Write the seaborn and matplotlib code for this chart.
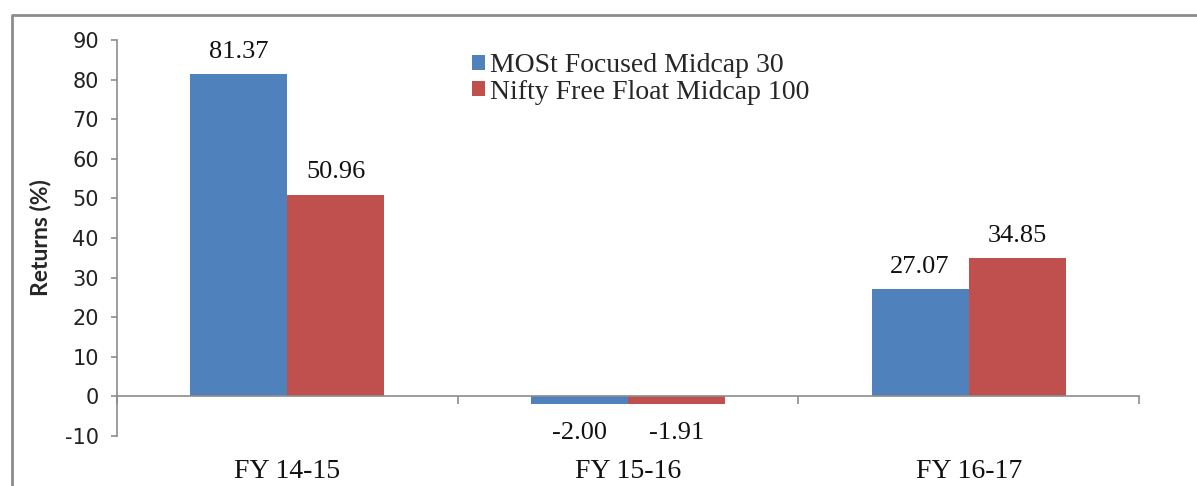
import pandas as pd
import matplotlib
matplotlib.use("Agg")
import matplotlib.pyplot as plt
import seaborn as sns
from matplotlib.lines import Line2D
from matplotlib.ticker import FixedLocator

years = ["FY 14-15", "FY 15-16", "FY 16-17"]
fund = [81.37, -2.00, 27.07]
index = [50.96, -1.91, 34.85]
series_names = ["MOSt Focused Midcap 30", "Nifty Free Float Midcap 100"]
colors = ["#4F81BD", "#C0504D"]

df = pd.DataFrame({
    "year": years * 2,
    "ret": fund + index,
    "series": [series_names[0]] * 3 + [series_names[1]] * 3,
})

sns.set_style("white")
plt.rcParams["axes.unicode_minus"] = False
serif = ["Liberation Serif", "DejaVu Serif"]
sans = ["DejaVu Sans"]

fig = plt.figure(figsize=(11.97, 4.86), dpi=100)
ax = fig.add_axes([117 / 1197, 1 - 436 / 486, (1139 - 117) / 1197, (436 - 40) / 486])

sns.barplot(data=df, x="year", y="ret", hue="series", palette=colors,
            width=0.57, saturation=1, edgecolor="none", linewidth=0, ax=ax)

ax.set_ylim(-10, 90)
ax.set_xlim(-0.5, 2.5)
ax.set_yticks(range(-10, 91, 10))

# value labels: positives above the bar, negatives further below
for cont in ax.containers:
    vals = cont.datavalues
    pos = ["%.2f" % v if v >= 0 else "" for v in vals]
    neg = ["%.2f" % v if v < 0 else "" for v in vals]
    ax.bar_label(cont, labels=pos, padding=8, fontsize=19, family=serif, color="#111111")
    ax.bar_label(cont, labels=neg, padding=13, fontsize=19, family=serif, color="#111111")

# spines
for s in ["top", "right"]:
    ax.spines[s].set_visible(False)
ax.spines["bottom"].set_position(("data", 0))
for s in ["left", "bottom"]:
    ax.spines[s].set_color("#8c8c8c")
    ax.spines[s].set_linewidth(1.2)

ax.xaxis.set_minor_locator(FixedLocator([-0.5, 0.5, 1.5, 2.5]))
ax.tick_params(axis="x", which="major", length=0, pad=45)
ax.tick_params(axis="x", which="minor", length=6, width=1.2, color="#8c8c8c", direction="out", bottom=True)
ax.tick_params(axis="y", which="major", length=4, width=1.2, color="#8c8c8c", direction="out", left=True, pad=9)

for lab in ax.get_xticklabels():
    lab.set_family(serif)
    lab.set_fontsize(20)
    lab.set_color("#111111")
for lab in ax.get_yticklabels():
    lab.set_family(sans)
    lab.set_fontsize(15)
    lab.set_color("#222222")

ax.set_xlabel("")
ax.set_ylabel("Returns (%)", family=["Lato", "DejaVu Sans"], fontsize=16.5, fontweight="bold", labelpad=10)

leg = ax.legend(loc="upper left", bbox_to_anchor=(0.323, 1.03), frameon=False,
                handlelength=0.45, handleheight=0.45, handletextpad=0.2, labelspacing=0.05,
                prop={"family": serif, "size": 20})

# outer border of the chart area
fig.add_artist(Line2D([12 / 1197, 12 / 1197, 1.0], [0.0, 1 - 15 / 486, 1 - 15 / 486],
                      transform=fig.transFigure, color="#8c8c8c", linewidth=2))

fig.savefig("out.png", dpi=100)
